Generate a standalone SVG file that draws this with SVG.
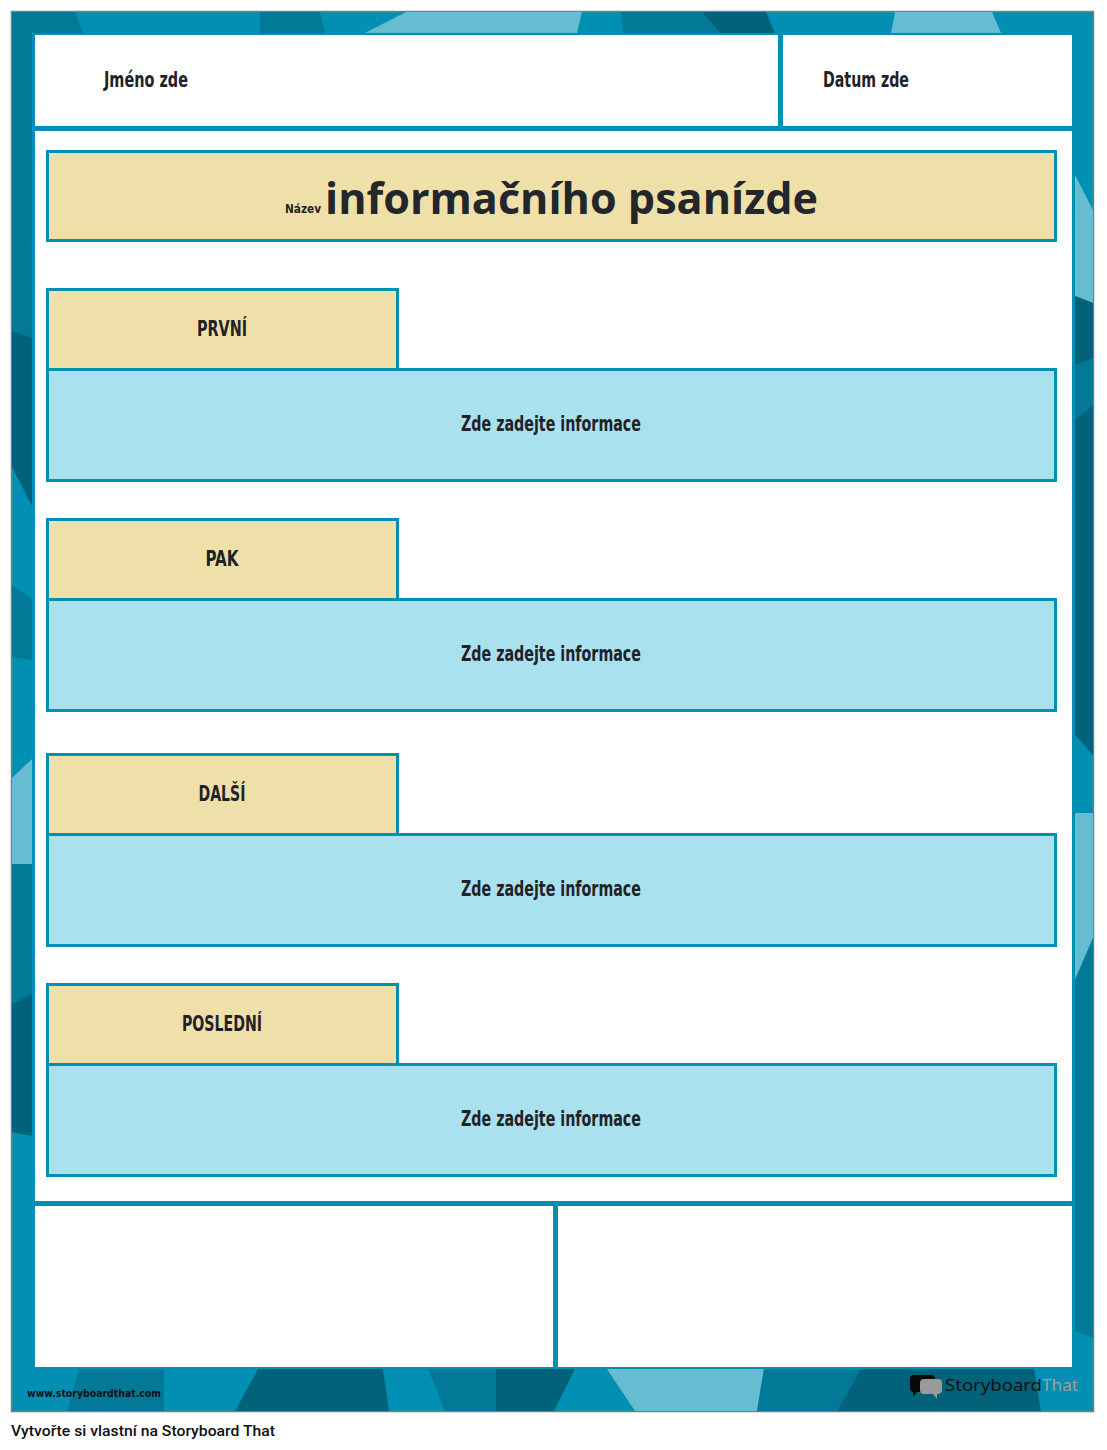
<svg xmlns="http://www.w3.org/2000/svg" width="1107" height="1450" viewBox="0 0 1107 1450">
<style>
.teal{fill:#0190b3}
.d1{fill:#027a97}
.d2{fill:#01627a}
.lt{fill:#66bcd1}
.bar{fill:#0190b3}
.tan{fill:#efe0aa;stroke:#0190b3;stroke-width:3}
.info{fill:#a9e1ee;stroke:#0190b3;stroke-width:3}
.lbl{font-family:"Liberation Sans Narrow","DejaVu Sans Condensed","Liberation Sans",sans-serif;font-weight:bold;font-size:21px;fill:#1f2226;text-anchor:middle}
.hdr{font-family:"Liberation Sans Narrow","DejaVu Sans Condensed","Liberation Sans",sans-serif;font-weight:bold;font-size:21px;fill:#1f2226}
</style>
<rect width="1107" height="1450" fill="#ffffff"/>
<g id="frame">
<rect x="11.5" y="11.5" width="1082" height="1400" class="teal" stroke="#7d7d7d" stroke-width="1.5"/>
<polygon class="d1" points="12,12 75,12 83,33 32,33 32,340 12,340"/>
<polygon class="d1" points="260,12 320,12 325,33 260,33"/>
<polygon class="lt" points="406,12 582,12 577,33 365,33"/>
<polygon class="d1" points="621,12 702,12 720,33 623,33"/>
<polygon class="d2" points="702,12 766,12 775,33 720,33"/>
<polygon class="lt" points="895,12 992,12 1001,33 891,33"/>
<polygon class="d2" points="12,331 32,338 32,506 12,467"/>
<polygon class="d1" points="12,585 32,599 32,660 12,657"/>
<polygon class="lt" points="12,778 32,759 32,864 12,864"/>
<polygon class="d1" points="12,864 32,864 32,994 12,1004"/>
<polygon class="d2" points="12,1004 32,994 32,1136 12,1132"/>
<polygon class="lt" points="1075,175 1093,210 1093,303 1075,296"/>
<polygon class="d2" points="1075,296 1093,303 1093,358 1075,366"/>
<polygon class="d1" points="1075,366 1093,358 1093,405 1075,420"/>
<polygon class="d2" points="1075,420 1093,405 1093,755 1075,735"/>
<polygon class="lt" points="1075,813 1093,813 1093,938 1075,980"/>
<polygon class="d1" points="1075,980 1093,938 1093,1338 1075,1331"/>
<polygon class="d1" points="79,1369 164,1369 164,1411 67,1411"/>
<polygon class="d2" points="258,1369 383,1369 389,1411 235,1411"/>
<polygon class="d1" points="428,1369 496,1369 496,1411 445,1411"/>
<polygon class="d2" points="496,1369 575,1369 554,1411 496,1411"/>
<polygon class="lt" points="607,1369 764,1369 757,1411 635,1411"/>
<polygon class="d1" points="764,1369 861,1369 837,1411 757,1411"/>
<polygon class="d2" points="861,1369 1034,1369 1041,1411 837,1411"/>
</g>
<g id="panel">
<rect x="35" y="35" width="1037" height="1332" fill="#ffffff"/>
<rect class="bar" x="35" y="126" width="1037" height="5"/>
<rect class="bar" x="778" y="35" width="5" height="93"/>
<rect class="bar" x="35" y="1201" width="1037" height="5"/>
<rect class="bar" x="553" y="1204" width="5" height="163"/>
</g>
<g id="name">
<text class="hdr" x="104" y="87" textLength="84" lengthAdjust="spacingAndGlyphs">Jméno zde</text>
</g>
<g id="date">
<text class="hdr" x="823" y="87" textLength="86" lengthAdjust="spacingAndGlyphs">Datum zde</text>
</g>
<g id="title">
<rect class="tan" x="47.5" y="151.5" width="1008" height="89"/>
<text x="285" y="213" font-family="'Liberation Sans Narrow','DejaVu Sans Condensed','Liberation Sans',sans-serif" font-weight="bold" font-size="13" fill="#1f2226" textLength="36" lengthAdjust="spacingAndGlyphs">Název</text>
<text x="325" y="214" font-family="'Open Sans','Noto Sans',sans-serif" font-weight="bold" font-size="43" fill="#23262b" textLength="493" lengthAdjust="spacingAndGlyphs">informačního psanízde</text>
</g>
<g id="prvni">
<rect class="tan" x="47.5" y="289.5" width="350" height="80"/>
<rect class="info" x="47.5" y="369.5" width="1008" height="111"/>
<text class="lbl" x="222" y="336" textLength="50" lengthAdjust="spacingAndGlyphs">PRVNÍ</text>
<text class="lbl" x="551" y="431" textLength="180" lengthAdjust="spacingAndGlyphs">Zde zadejte informace</text>
</g>
<g id="pak">
<rect class="tan" x="47.5" y="519.5" width="350" height="80"/>
<rect class="info" x="47.5" y="599.5" width="1008" height="111"/>
<text class="lbl" x="222" y="566" textLength="33" lengthAdjust="spacingAndGlyphs">PAK</text>
<text class="lbl" x="551" y="661" textLength="180" lengthAdjust="spacingAndGlyphs">Zde zadejte informace</text>
</g>
<g id="dalsi">
<rect class="tan" x="47.5" y="754.5" width="350" height="80"/>
<rect class="info" x="47.5" y="834.5" width="1008" height="111"/>
<text class="lbl" x="222" y="801" textLength="47" lengthAdjust="spacingAndGlyphs">DALŠÍ</text>
<text class="lbl" x="551" y="896" textLength="180" lengthAdjust="spacingAndGlyphs">Zde zadejte informace</text>
</g>
<g id="posledni">
<rect class="tan" x="47.5" y="984.5" width="350" height="80"/>
<rect class="info" x="47.5" y="1064.5" width="1008" height="111"/>
<text class="lbl" x="222" y="1031" textLength="80" lengthAdjust="spacingAndGlyphs">POSLEDNÍ</text>
<text class="lbl" x="551" y="1126" textLength="180" lengthAdjust="spacingAndGlyphs">Zde zadejte informace</text>
</g>
<g id="connectors"></g>
<g id="footer">
<text x="27" y="1397" font-family="'Liberation Sans Narrow','DejaVu Sans Condensed','Liberation Sans',sans-serif" font-weight="bold" font-size="11" fill="#111" textLength="134" lengthAdjust="spacingAndGlyphs">www.storyboardthat.com</text>
<path d="M913,1375 h18 a4,4 0 0 1 4,4 v9 a4,4 0 0 1 -4,4 h-14 l-4,5 v-5 a4,4 0 0 1 -3,-4 v-9 a4,4 0 0 1 3,-4 z" fill="#0a0a0a"/>
<path d="M924,1379 h14 a4,4 0 0 1 4,4 v7 a4,4 0 0 1 -4,4 h-1 v5 l-4,-5 h-9 a4,4 0 0 1 -4,-4 v-7 a4,4 0 0 1 4,-4 z" fill="#9a9a9a"/>
<text x="945" y="1391" font-family="'Noto Sans','Open Sans',sans-serif" font-size="17" fill="#111" textLength="97" lengthAdjust="spacingAndGlyphs">Storyboard</text>
<text x="1042" y="1391" font-family="'Noto Sans','Open Sans',sans-serif" font-size="17" fill="#a0a0a0" textLength="36" lengthAdjust="spacingAndGlyphs">That</text>
<text x="11" y="1436" font-family="Roboto,'Liberation Sans',sans-serif" font-weight="500" font-size="14.5" fill="#111" textLength="264" lengthAdjust="spacingAndGlyphs">Vytvořte si vlastní na Storyboard That</text>
</g>
</svg>
